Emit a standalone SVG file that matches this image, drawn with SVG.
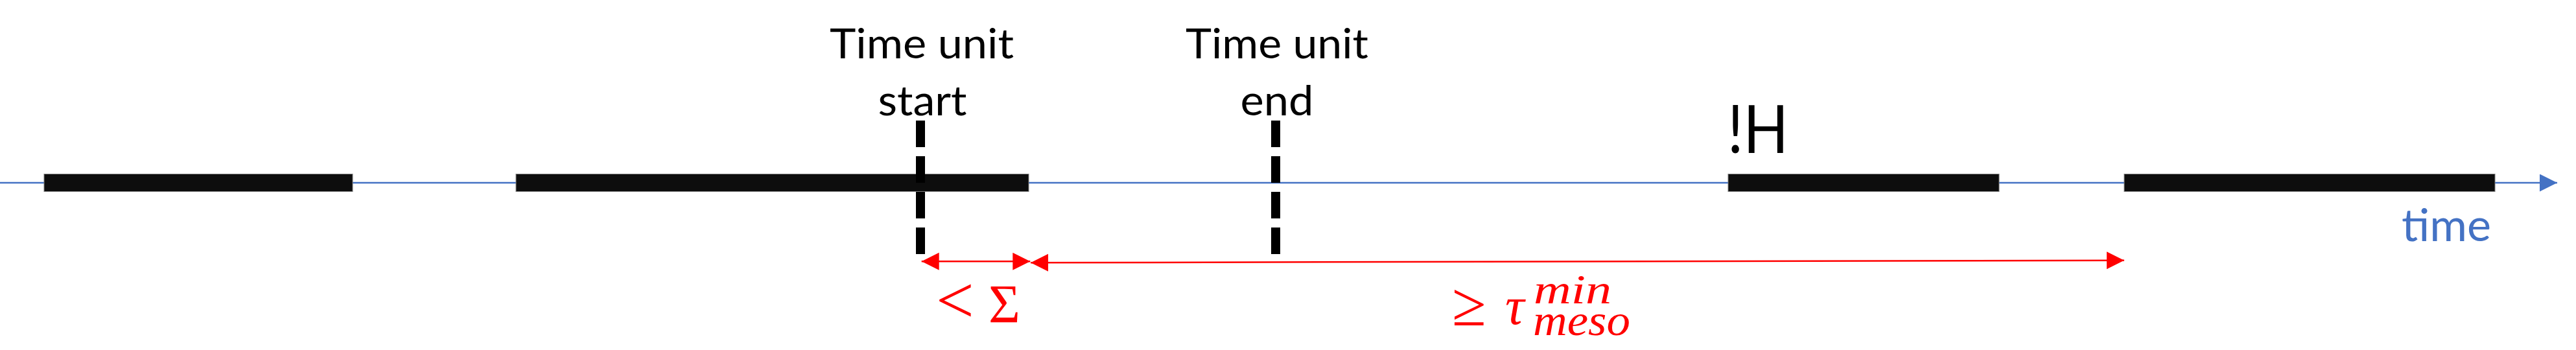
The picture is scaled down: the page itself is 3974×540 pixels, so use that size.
<svg xmlns="http://www.w3.org/2000/svg" width="3974" height="540" viewBox="0 0 3974 540">
  <style>
    .bar { fill: #0d0d0d; stroke: #7f7f7f; stroke-width: 1; }
    .dash { stroke: #000; stroke-width: 14; stroke-dasharray: 41 14; fill: none; }
    .lbl { font-family: Lato, "Liberation Sans", sans-serif; fill: #000; text-anchor: middle; }
    .math { font-family: "Liberation Serif", "DejaVu Serif", serif; fill: #ff0000; }
    .red { stroke: #ff0000; stroke-width: 2.5; fill: none; }
  </style>
  <defs>
    <marker id="redHead" markerUnits="userSpaceOnUse" markerWidth="28" markerHeight="28" refX="27" refY="13.5" orient="auto-start-reverse" viewBox="0 0 28 28">
      <path d="M0,0 L27,13.5 L0,27 Z" fill="#ff0000"/>
    </marker>
    <marker id="blueHead" markerUnits="userSpaceOnUse" markerWidth="28" markerHeight="28" refX="27" refY="13.5" orient="auto" viewBox="0 0 28 28">
      <path d="M0,0 L27,13.5 L0,27 Z" fill="#4472c4"/>
    </marker>
  </defs>
  <rect width="3974" height="540" fill="#ffffff"/>

  <g id="timeline">
    <line x1="0" y1="282" x2="3945" y2="282" stroke="#4472c4" stroke-width="2.5" marker-end="url(#blueHead)"/>
    <text x="3774" y="372" font-family="Lato, 'Liberation Sans', sans-serif" font-size="69" fill="#4472c4" text-anchor="middle" textLength="138" lengthAdjust="spacingAndGlyphs">time</text>
  </g>

  <g id="bar1"><rect class="bar" x="68" y="268.5" width="476" height="27"/></g>
  <g id="bar2"><rect class="bar" x="796" y="268.5" width="791" height="27"/></g>
  <g id="bar3">
    <rect class="bar" x="2666" y="268.5" width="418" height="27"/>
    <text class="lbl" x="2712" y="236" font-size="103" textLength="94" lengthAdjust="spacingAndGlyphs">!H</text>
  </g>
  <g id="bar4"><rect class="bar" x="3277" y="268.5" width="572" height="27"/></g>

  <g id="unit-start">
    <line class="dash" x1="1420" y1="186" x2="1420" y2="392"/>
    <text class="lbl" x="1422" y="90" font-size="63" textLength="284" lengthAdjust="spacingAndGlyphs">Time unit</text>
    <text class="lbl" x="1423" y="178" font-size="63" textLength="137" lengthAdjust="spacingAndGlyphs">start</text>
  </g>

  <g id="unit-end">
    <line class="dash" x1="1968" y1="186" x2="1968" y2="392"/>
    <text class="lbl" x="1970" y="90" font-size="63" textLength="282" lengthAdjust="spacingAndGlyphs">Time unit</text>
    <text class="lbl" x="1970" y="178" font-size="63" textLength="113" lengthAdjust="spacingAndGlyphs">end</text>
  </g>

  <g id="connectors">
    <line class="red" x1="1421.7" y1="403.3" x2="1589.3" y2="403.3" marker-start="url(#redHead)" marker-end="url(#redHead)"/>
    <line class="red" x1="1590" y1="405.3" x2="3277" y2="401.7" marker-start="url(#redHead)" marker-end="url(#redHead)"/>
  </g>

  <g id="label-sigma">
    <text class="math" y="498" font-size="84"><tspan x="1444" font-size="104">&lt;</tspan><tspan x="1525">Σ</tspan></text>
  </g>

  <g id="label-tau">
    <text class="math" x="2240" y="502" font-size="96">≥</text>
    <text class="math" x="2322" y="500" font-size="82" font-style="italic">τ</text>
    <text class="math" x="2366" y="468" font-size="64" font-style="italic" textLength="120" lengthAdjust="spacingAndGlyphs">min</text>
    <text class="math" x="2365" y="517" font-size="68" font-style="italic" textLength="150" lengthAdjust="spacingAndGlyphs">meso</text>
  </g>
</svg>
